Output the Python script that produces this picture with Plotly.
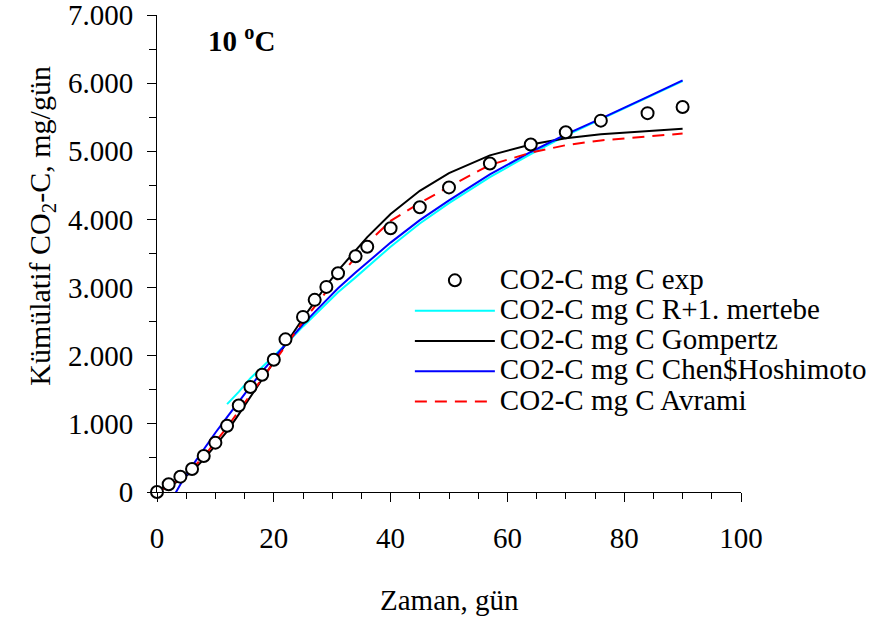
import plotly.graph_objects as go

# ---- data ----
days = [0, 2, 4, 6, 8, 10, 12, 14, 16, 18, 20, 22, 25, 27, 29, 31, 34, 36, 40, 45, 50, 57, 64, 70, 76, 84, 90]
exp_vals = [0, 113, 225, 338, 529, 724, 973, 1270, 1540, 1720, 1940, 2240, 2570, 2820, 3010, 3210,
            3460, 3600, 3870, 4180, 4470, 4820, 5100, 5280, 5450, 5560, 5650]

r1_days = [12, 14, 16, 18, 20, 22, 25, 27, 29, 31, 34, 36, 40, 45, 50, 57, 64, 70, 76, 84, 90]
r1_vals = [1290, 1470, 1670, 1830, 1990, 2160, 2430, 2600, 2770, 2930, 3150, 3300, 3600, 3940,
           4240, 4620, 4960, 5230, 5470, 5790, 6030]

gomp_vals = [40, 90, 170, 300, 480, 680, 890, 1140, 1400, 1650, 1900, 2170, 2550, 2790, 3030, 3250,
             3550, 3740, 4080, 4420, 4680, 4940, 5100, 5190, 5250, 5300, 5330]

chen_days = [2, 4, 6, 8, 10, 12, 14, 16, 18, 20, 22, 25, 27, 29, 31, 34, 36, 40, 45, 50, 57, 64, 70, 76, 84, 90]
chen_vals = [-190, 110, 380, 630, 870, 1100, 1330, 1550, 1770, 1970, 2170, 2460, 2640, 2820, 2990,
             3220, 3370, 3660, 3990, 4280, 4660, 4990, 5250, 5480, 5800, 6040]

avrami_vals = [0, 80, 200, 340, 520, 730, 950, 1190, 1430, 1670, 1910, 2150, 2500, 2720, 2940, 3140,
               3440, 3650, 3980, 4240, 4480, 4800, 4980, 5090, 5160, 5220, 5260]

x_ticks = [0, 20, 40, 60, 80, 100]
y_ticks = [0, 1000, 2000, 3000, 4000, 5000, 6000, 7000]

FONT = "Liberation Serif"
LEG = '<span style="font-size:29px">%s</span>'

fig = go.Figure()

fig.add_trace(go.Scatter(x=r1_days, y=r1_vals, mode="lines", name=LEG % "CO2-C mg C R+1. mertebe",
                         line=dict(color="#00FFFF", width=2), legendrank=2))
fig.add_trace(go.Scatter(x=days, y=gomp_vals, mode="lines", name=LEG % "CO2-C mg C Gompertz",
                         line=dict(color="#000000", width=2), legendrank=3))
fig.add_trace(go.Scatter(x=chen_days, y=chen_vals, mode="lines", name=LEG % "CO2-C mg C Chen$Hoshimoto",
                         line=dict(color="#0000FF", width=2), legendrank=4))
fig.add_trace(go.Scatter(x=days, y=avrami_vals, mode="lines", name=LEG % "CO2-C mg C Avrami",
                         line=dict(color="#FF0000", width=2, dash="12px,8px"), legendrank=5))
fig.add_trace(go.Scatter(x=days, y=exp_vals, mode="markers", name=LEG % "CO2-C mg C exp",
                         cliponaxis=False,
                         marker=dict(symbol="circle", size=12, color="white",
                                     line=dict(color="black", width=2)), legendrank=1))

fig.update_layout(
    width=887, height=617, autosize=False,
    margin=dict(l=157, r=146, t=15, b=125, pad=0),
    paper_bgcolor="white", plot_bgcolor="white",
    separators=",.",
    font=dict(family=FONT, size=28, color="black"),
    showlegend=True,
    legend=dict(x=0.433, y=0.486, xanchor="left", yanchor="top",
                font=dict(family=FONT, size=21, color="black"),
                bgcolor="rgba(0,0,0,0)", borderwidth=0, itemwidth=80,
                tracegroupgap=0),
    xaxis=dict(range=[0, 100], tickvals=x_ticks, showline=True, linecolor="black", linewidth=1,
               ticks="outside", ticklen=9, tickwidth=1, tickcolor="black",
               minor=dict(dtick=5, ticks="outside", ticklen=6, tickwidth=1, tickcolor="black"),
               showgrid=False, zeroline=False, ticklabelstandoff=11, ticklabeloverflow="allow",
               automargin=False,
               tickfont=dict(family=FONT, size=29, color="black")),
    yaxis=dict(range=[0, 7000.5], tickvals=y_ticks, showline=True, linecolor="black", linewidth=1,
               ticks="outside", ticklen=9, tickwidth=1, tickcolor="black",
               minor=dict(dtick=500, tick0=0, ticks="outside", ticklen=7, tickwidth=1, tickcolor="black"),
               showgrid=False, zeroline=False, tickformat=",d", separatethousands=True,
               ticklabelstandoff=8, ticklabeloverflow="allow", automargin=False,
               tickfont=dict(family=FONT, size=29, color="black")),
    annotations=[
        dict(text="<b>10 <sup>o</sup>C</b>", x=0.144, y=0.95, xref="paper", yref="paper",
             xanchor="center", yanchor="middle", showarrow=False,
             font=dict(family=FONT, size=29, color="black")),
        dict(text="Kümülatif CO<sub>2</sub>-C, mg/gün", x=-0.197, y=0.558, xref="paper", yref="paper",
             xanchor="center", yanchor="middle", showarrow=False, textangle=-90,
             font=dict(family=FONT, size=30, color="black")),
        dict(text="Zaman, gün", x=0.5, y=-0.2264, xref="paper", yref="paper",
             xanchor="center", yanchor="middle", showarrow=False,
             font=dict(family=FONT, size=29, color="black")),
    ],
)

fig.write_html("out.html", config={"displayModeBar": False},
               post_script="document.body.style.margin='0px';")
